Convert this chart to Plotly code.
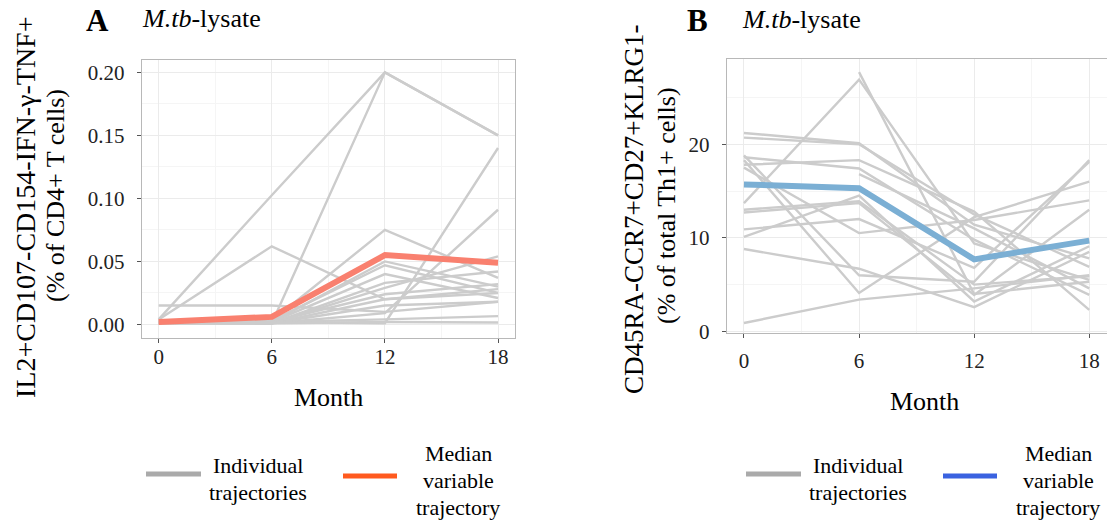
import plotly.graph_objects as go

W, H = 1107, 523

months = [0, 6, 12, 18]
month_ticks = [0, 6, 12, 18]

# Panel A: IL2+CD107-CD154-IFN-g-TNF+ (% of CD4+ T cells)
a_individual = [
    [0.004, 0.1025, 0.200, 0.150],
    [0.003, 0.001, 0.200, 0.150],
    [0.004, 0.062, 0.020, 0.025],
    [0.015, 0.015, 0.010, 0.018],
    [0.002, 0.003, 0.075, 0.037],
    [0.001, 0.002, 0.050, 0.030],
    [0.002, 0.002, 0.001, 0.140],
    [0.002, 0.001, 0.009, 0.091],
    [0.001, 0.002, 0.040, 0.021],
    [0.002, 0.001, 0.033, 0.042],
    [0.001, 0.001, 0.029, 0.054],
    [0.002, 0.002, 0.024, 0.032],
    [0.001, 0.001, 0.020, 0.028],
    [0.001, 0.001, 0.015, 0.018],
    [0.002, 0.002, 0.004, 0.0066],
    [0.001, 0.001, 0.002, 0.0016],
    [0.003, 0.003, 0.047, 0.025],
]
a_median = [0.002, 0.006, 0.055, 0.049]
a_yticks = [0.00, 0.05, 0.10, 0.15, 0.20]

# Panel B: CD45RA-CCR7+CD27+KLRG1- (% of total Th1+ cells)
b_individual = [
    [21.2, 20.1, 11.4, 7.8],
    [20.7, 20.0, 12.5, 6.9],
    [18.8, 6.0, 5.3, 18.3],
    [18.3, 4.1, 12.2, 16.0],
    [17.5, 10.5, 11.9, 14.0],
    [13.7, 26.9, 9.4, 5.5],
    [12.7, 13.7, 3.9, 13.0],
    [10.9, 12.0, 6.8, 18.1],
    [10.1, 14.5, 3.2, 9.1],
    [8.8, 6.7, 2.6, 8.5],
    [0.9, 3.4, 4.6, 6.0],
    [None, 27.7, 4.0, 5.3],
    [18.6, 17.4, 9.8, 3.9],
    [17.8, 18.3, 12.8, 2.3],
    [None, 16.8, 11.0, 4.6],
    [13.0, 13.9, 5.0, 5.9],
]
b_median = [15.7, 15.3, 7.7, 9.7]
b_yticks = [0, 10, 20]

title_a = "<i>M.tb</i>-lysate"
title_b = "<i>M.tb</i>-lysate"
ylab_a = ["IL2+CD107-CD154-IFN-\u03b3-TNF+", "(% of CD4+ T cells)"]
ylab_b = ["CD45RA-CCR7+CD27+KLRG1-", "(% of total Th1+ cells)"]
xlab = "Month"
legend_individual = ["Individual", "trajectories"]
legend_median = ["Median", "variable", "trajectory"]

GREY = "#cccccc"
SALMON = "#f9806f"
BLUE = "#7bafd4"
KEY_GREY = "#aaaaaa"
KEY_ORANGE = "#ff5a1f"
KEY_BLUE = "#3a62e0"
FONT = "Liberation Serif"

fig = go.Figure()

for row in a_individual:
    fig.add_trace(go.Scatter(x=months, y=row, mode="lines", xaxis="x", yaxis="y",
                             line=dict(color=GREY, width=2.4), showlegend=False, hoverinfo="skip"))
fig.add_trace(go.Scatter(x=months, y=a_median, mode="lines", xaxis="x", yaxis="y",
                         line=dict(color=SALMON, width=6), showlegend=False))

for row in b_individual:
    fig.add_trace(go.Scatter(x=months, y=row, mode="lines", xaxis="x2", yaxis="y2",
                             line=dict(color=GREY, width=2.4), showlegend=False, hoverinfo="skip"))
fig.add_trace(go.Scatter(x=months, y=b_median, mode="lines", xaxis="x2", yaxis="y2",
                         line=dict(color=BLUE, width=6), showlegend=False))


def px(x):
    return x / W


def py(y):
    return 1 - y / H


def axis_common():
    return dict(
        showline=True, linecolor="#b8b8b8", linewidth=1, mirror=True,
        ticks="outside", ticklen=4, tickcolor="#555555", tickwidth=1,
        showgrid=True, gridcolor="#ebebeb", gridwidth=1,
        zeroline=False, automargin=False,
        tickfont=dict(family=FONT, size=21, color="#222222"),
    )


xa = axis_common()
xa.update(domain=[px(141.7), px(515)], range=[-0.9, 18.9], tickvals=month_ticks,
          minor=dict(dtick=3, tick0=0, showgrid=True, gridcolor="#f5f5f5", ticks=""),
          anchor="y", ticklabelstandoff=-4)
ya = axis_common()
ya.update(domain=[py(337.7), py(60)], range=[-0.0105, 0.2098], tickvals=a_yticks,
          tickformat=".2f",
          minor=dict(dtick=0.025, tick0=0, showgrid=True, gridcolor="#f5f5f5", ticks=""),
          anchor="x", ticklabelstandoff=8)
xb = axis_common()
xb.update(domain=[px(726.7), px(1106.5)], range=[-0.9, 18.9], tickvals=month_ticks,
          minor=dict(dtick=3, tick0=0, showgrid=True, gridcolor="#f5f5f5", ticks=""),
          anchor="y2", ticklabelstandoff=4)
yb = axis_common()
yb.update(domain=[py(333.3), py(59)], range=[-0.2, 29.1], tickvals=b_yticks,
          minor=dict(dtick=5, tick0=0, showgrid=True, gridcolor="#f5f5f5", ticks=""),
          anchor="x2", ticklabelstandoff=8)

annotations = []


def ann(text, x, y, size, angle=0, bold=False):
    t = "<b>%s</b>" % text if bold else text
    annotations.append(dict(text=t, x=px(x), y=py(y), xref="paper", yref="paper",
                            xanchor="center", yanchor="middle", showarrow=False,
                            textangle=angle,
                            font=dict(family=FONT, size=size, color="#000000")))


# panel letters and titles
ann("A", 97, 21, 31, bold=True)
ann("B", 697, 21, 31, bold=True)
annotations.append(dict(text=title_a, x=px(140), y=py(18), xref="paper", yref="paper",
                        xanchor="left", yanchor="middle", showarrow=False,
                        font=dict(family=FONT, size=26, color="#000000")))
annotations.append(dict(text=title_b, x=px(740), y=py(20), xref="paper", yref="paper",
                        xanchor="left", yanchor="middle", showarrow=False,
                        font=dict(family=FONT, size=26, color="#000000")))

# y axis titles
ann(ylab_a[0], 25, 207, 28, angle=-90)
ann(ylab_a[1], 55, 196, 26, angle=-90)
ann(ylab_b[0], 634, 210, 27, angle=-90)
ann(ylab_b[1], 666, 206, 26, angle=-90)

# x axis titles
ann(xlab, 328, 397, 26)
ann(xlab, 924, 401, 26)

# legends
shapes = []


def key(x0, x1, y, color):
    shapes.append(dict(type="line", xref="paper", yref="paper", x0=px(x0), x1=px(x1),
                       y0=py(y), y1=py(y), line=dict(color=color, width=5)))


def legend_block(xoff, median_color):
    key(146 + xoff, 201 + xoff, 474, KEY_GREY)
    key(343 + xoff, 397 + xoff, 476, median_color)
    for i, t in enumerate(legend_individual):
        ann(t, 258 + xoff, 465 + 27 * i, 22)
    for i, t in enumerate(legend_median):
        ann(t, 458 + xoff, 453 + 27 * i, 22)


legend_block(0, KEY_ORANGE)
legend_block(600, KEY_BLUE)

fig.update_layout(
    width=W, height=H,
    margin=dict(l=0, r=0, t=0, b=0),
    paper_bgcolor="white", plot_bgcolor="white",
    xaxis=xa, yaxis=ya, xaxis2=xb, yaxis2=yb,
    annotations=annotations, shapes=shapes,
    showlegend=False,
)

fig.write_html("out.html")
